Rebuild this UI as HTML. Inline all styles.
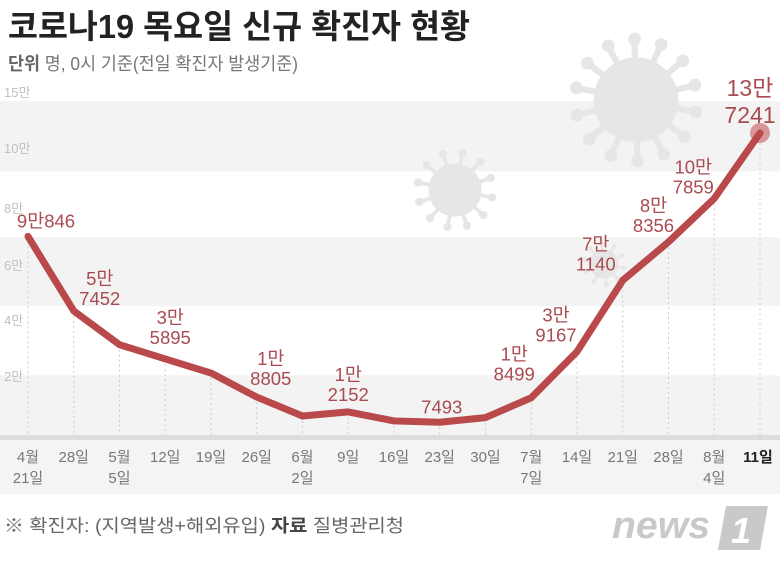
<!DOCTYPE html>
<html><head><meta charset="utf-8"><style>
html,body{margin:0;padding:0;background:#fff;width:780px;height:561px;overflow:hidden}
svg{display:block;font-family:"Liberation Sans","Noto Sans CJK KR",sans-serif}
</style></head><body>
<svg id="chart" width="780" height="561" viewBox="0 0 780 561" xmlns="http://www.w3.org/2000/svg">
<rect width="780" height="561" fill="#fff"/>
<text x="8" y="38" font-size="33" font-weight="bold" fill="#222" textLength="462" lengthAdjust="spacingAndGlyphs">코로나19 목요일 신규 확진자 현황</text>
<text x="8" y="70" font-size="18" fill="#777" textLength="290" lengthAdjust="spacingAndGlyphs"><tspan font-weight="bold" fill="#666">단위</tspan>  명, 0시 기준(전일 확진자 발생기준)</text>
<g id="bands"></g>
<g id="viruses" fill="#e6e6e6" stroke="#e6e6e6"></g>
<g id="yticks"></g>
<g id="grid"></g>
<rect x="0" y="440" width="780" height="54" fill="#f4f4f4"/>
<rect x="0" y="435" width="780" height="5" fill="#ddd"/>
<g id="xlabels"></g>
<g id="series"></g>
<g id="values"></g>
<text x="4" y="532" font-size="18" fill="#666" textLength="400" lengthAdjust="spacingAndGlyphs">※ 확진자: (지역발생+해외유입)  <tspan font-weight="bold" fill="#444">자료</tspan>  질병관리청</text>
<g>
<text x="612" y="538" font-size="38" font-weight="bold" font-style="italic" fill="#c9c9c9" textLength="98" lengthAdjust="spacingAndGlyphs">news</text>
<polygon points="726,506 768,506 760,550 718,550" fill="#c9c9c9"/>
<text x="731" y="543" font-size="36" font-weight="bold" font-style="italic" fill="#fff">1</text>
</g>
</svg>
<script>
const dates = ["4월|21일","28일","5월|5일","12일","19일","26일","6월|2일","9일","16일","23일","30일","7월|7일","14일","21일","28일","8월|4일","11일"];
const cases = [90846,57452,42296,35895,29581,18805,10300,12152,8100,7493,9600,18499,39167,71140,88356,107859,137241];
const valueLabels = ["9만846","5만|7452","","3만|5895","","1만|8805","","1만|2152","","7493","","1만|8499","3만|9167","7만|1140","8만|8356","10만|7859","13만|7241"];
const tickVals = [155600,130500,103600,78000,53400,28250];
const tickLabels = ["15만","10만","8만","6만","4만","2만"];
const bandVals = [151500,120000,90500,59600,28600,0];

const NS="http://www.w3.org/2000/svg";
const x0=28, x1=760, y0=439, yk=0.00223;
const xs=i=>x0+(x1-x0)*i/(dates.length-1);
const ys=v=>y0-v*yk;
function el(t,a,p){const e=document.createElementNS(NS,t);for(const k in a)e.setAttribute(k,a[k]);p.appendChild(e);return e;}
// label offsets (layout only) relative to point: [dx, dy of last baseline]
const labelOffset = {0:[18,-9],1:[26,-6],3:[5,-15],5:[14,-12],7:[0,-11],9:[2,-9],11:[-17,-17],12:[-21,-10],13:[-27,-10],14:[-15,-10],15:[-21,-5],16:[-10,-10]};

const bands=document.getElementById('bands');
for(let i=0;i<bandVals.length-1;i+=2){
  const r=el('rect',{x:0,y:ys(bandVals[i]),width:780,height:ys(bandVals[i+1])-ys(bandVals[i]),fill:'#f3f3f3'},bands);
  
  
}
const vg=document.getElementById('viruses');
function virus(cx,cy,r,n){
  const g=el('g',{},vg);
  
  
  el('circle',{cx,cy,r},g);
  for(let k=0;k<n;k++){const a=k*2*Math.PI/n+0.2;
    const ex=cx+Math.cos(a)*r*1.45, ey=cy+Math.sin(a)*r*1.45;
    el('line',{x1:cx,y1:cy,x2:ex,y2:ey,'stroke-width':r*0.15},g);
    el('circle',{cx:ex,cy:ey,r:r*0.14},g);}
}
virus(636,100,42,14);virus(455,190,26,12);virus(604,264,14,10);

const yt=document.getElementById('yticks');
tickVals.forEach((v,i)=>{const t=el('text',{x:4,y:ys(v)+5,'font-size':13,fill:'#c0c0c0'},yt);t.textContent=tickLabels[i];
  
  });

const grid=document.getElementById('grid');
const xl=document.getElementById('xlabels');
dates.forEach((d,i)=>{
  const ln=el('line',{x1:xs(i),x2:xs(i),y1:ys(cases[i]),y2:436,stroke:'#ccc','stroke-dasharray':'2,3','stroke-width':1},grid);
  
  
  const last=i===dates.length-1;
  const t=el('text',{x:xs(i)+(last?-2:0),'text-anchor':'middle','font-size':15,fill:last?'#222':'#777','font-weight':last?'bold':'normal'},xl);
  
  
  d.split('|').forEach((p,j)=>{const s=el('tspan',{x:xs(i)+(last?-2:0),y:462+j*21},t);s.textContent=p;});
});

const ser=document.getElementById('series');
const path=el('polyline',{points:cases.map((v,i)=>xs(i)+','+ys(v)).join(' '),fill:'none',stroke:'#b9494b','stroke-width':7,'stroke-linejoin':'round','stroke-linecap':'round'},ser);


const dot=el('circle',{cx:xs(cases.length-1),cy:ys(cases[cases.length-1]),r:10,fill:'#c0494b','fill-opacity':0.55},ser);



const vl=document.getElementById('values');
valueLabels.forEach((lab,i)=>{
  if(!lab)return;
  const parts=lab.split('|');const last=i===cases.length-1;
  const fs=last?23:18.5, lh=last?27:20;
  const off=labelOffset[i]||[0,-10];
  const cx=xs(i)+off[0], by=ys(cases[i])+off[1];
  const t=el('text',{'text-anchor':'middle','font-size':fs,fill:'#a94b51'},vl);
  
  
  parts.forEach((p,j)=>{const s=el('tspan',{x:cx,y:by-(parts.length-1-j)*lh},t);s.textContent=p;});
});
</script>
</body></html>
